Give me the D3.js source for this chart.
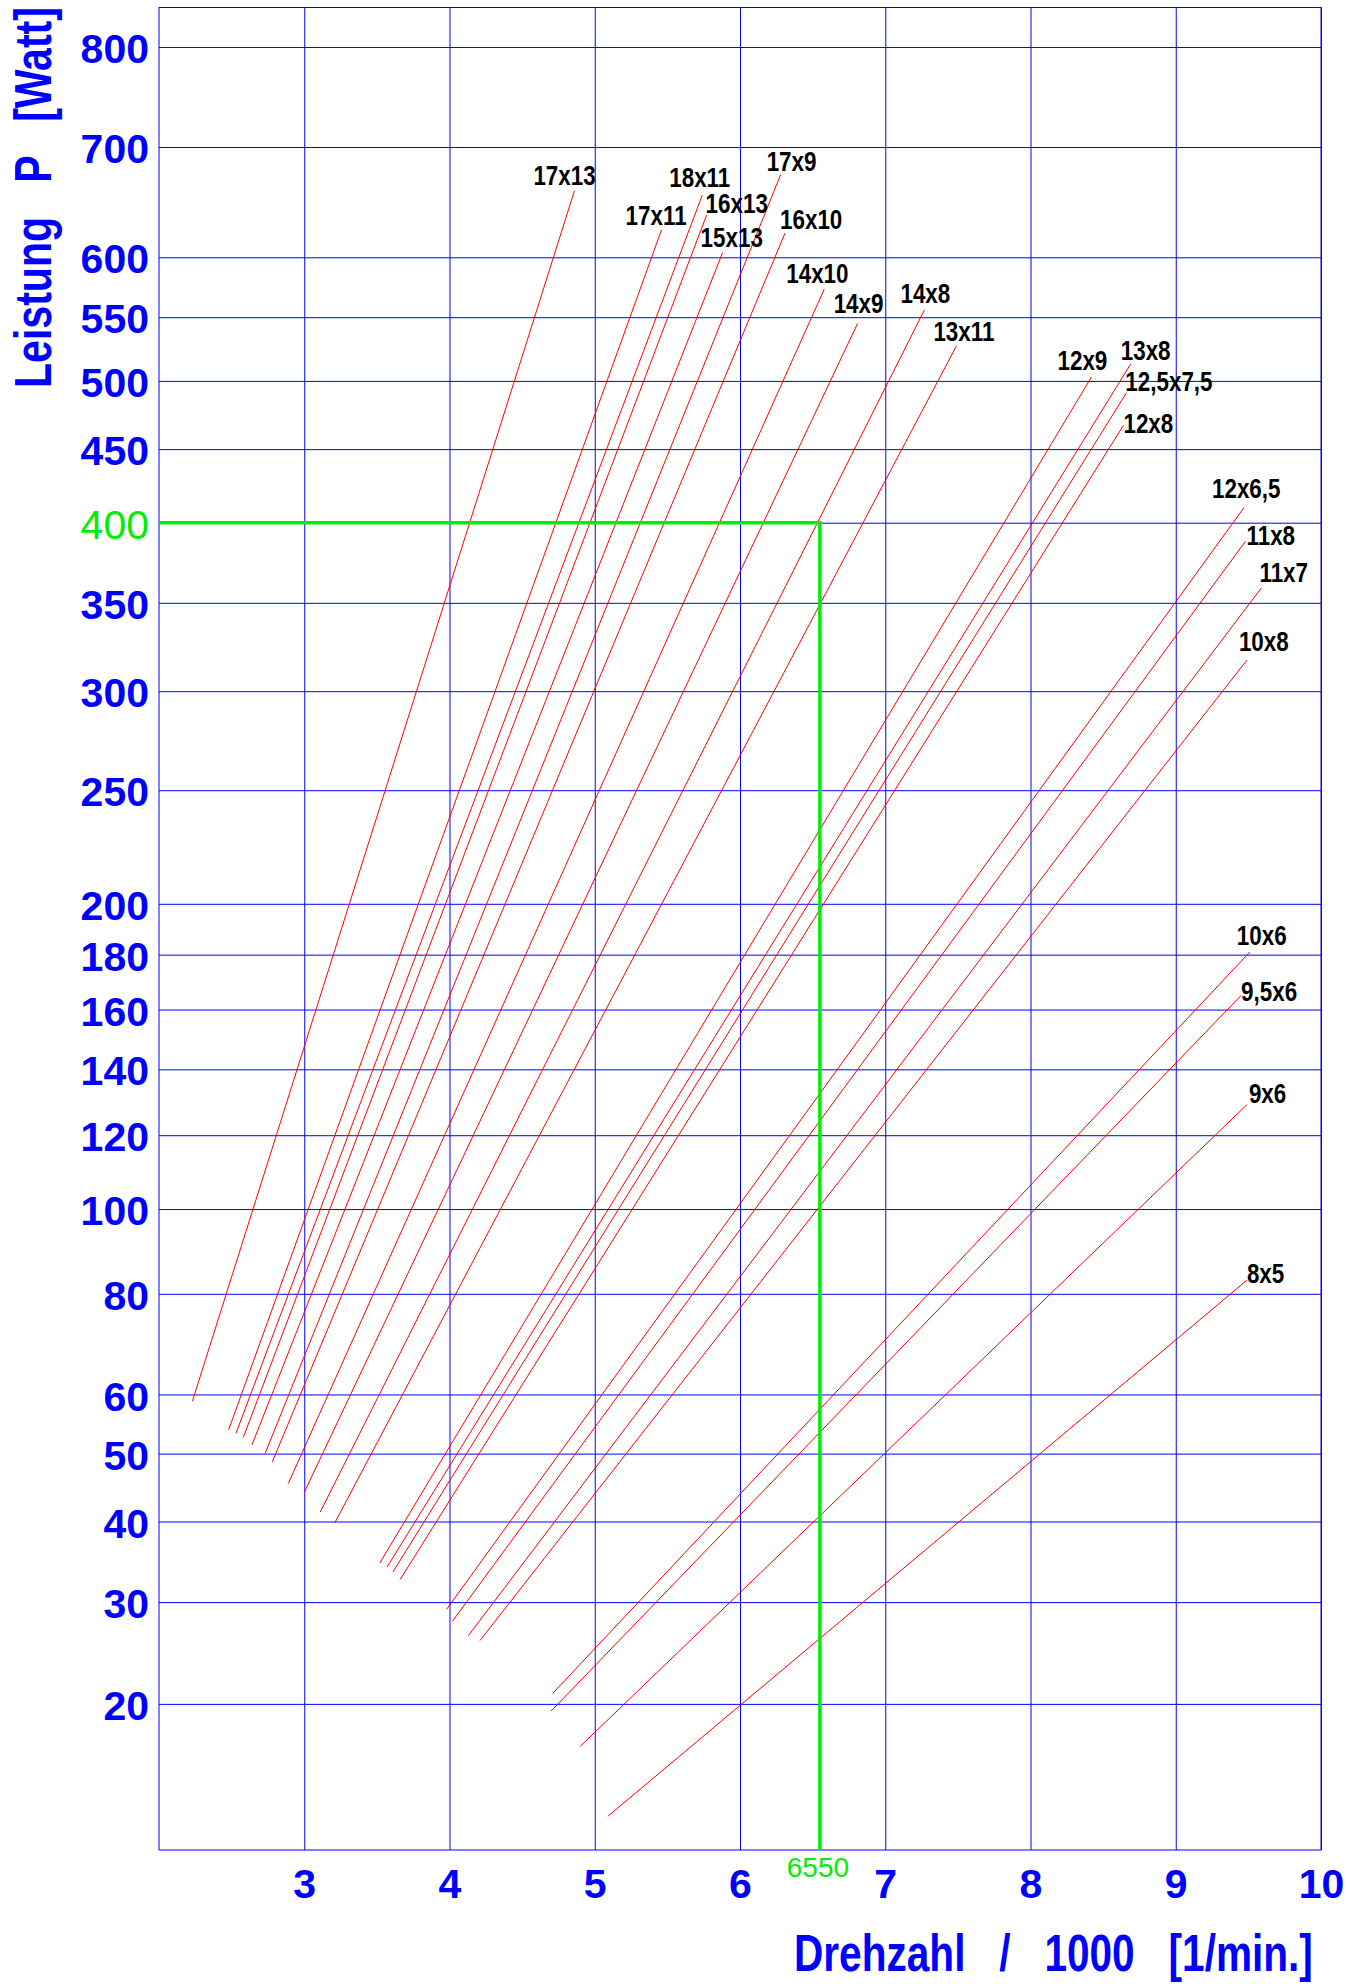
<!DOCTYPE html>
<html>
<head>
<meta charset="utf-8">
<script src="https://cdn.jsdelivr.net/npm/d3@7"></script>
<style>
  body { margin: 0; background: #fff; }
  svg { display: block; font-family: "Liberation Sans", Arial, Helvetica, sans-serif; }
  .grid line { stroke: #0000ff; stroke-width: 1; }
  .grid path { display: none; }
</style>
</head>
<body>
<div id="chart"></div>
<script>
// propeller curves: start (low rpm) and end (high rpm) points, rpm in 1000/min
var propNames  = ["17x13","17x11","18x11","16x13","15x13","17x9","16x10","14x10","14x9","14x8","13x11",
                  "12x9","13x8","12,5x7,5","12x8",
                  "12x6,5","11x8","11x7","10x8",
                  "10x6","9,5x6","9x6","8x5"];
var rpmStart   = [2.23, 2.48, 2.53, 2.58, 2.64, 2.73, 2.78, 2.89, 3.00, 3.11, 3.21,
                  3.52, 3.57, 3.61, 3.66,
                  3.98, 4.02, 4.13, 4.21,
                  4.71, 4.70, 4.90, 5.09];
var powerStart = [58.8, 53.9, 53.3, 52.6, 51.4, 50.0, 48.7, 45.4, 44.1, 41.3, 39.8,
                  34.6, 34.1, 33.5, 32.6,
                  29.2, 27.9, 26.4, 25.9,
                  20.9, 19.4, 16.6, 11.9];
var rpmEnd     = [4.86, 5.46, 5.74, 5.77, 5.88, 6.28, 6.31, 6.58, 6.81, 7.27, 7.49,
                  8.42, 8.69, 8.66, 8.64,
                  9.47, 9.48, 9.59, 9.49,
                  9.51, 9.45, 9.49, 9.49];
var powerEnd   = [659, 624, 655, 637, 604, 674, 621, 573, 545, 556, 527,
                  503, 513, 491, 467,
                  410, 388, 359, 317,
                  181, 165, 129, 83];

var xTicks = [3, 4, 5, 6, 7, 8, 9, 10];
var yTicks = [20, 30, 40, 50, 60, 80, 100, 120, 140, 160, 180, 200, 250, 300, 350, 400, 450, 500, 550, 600, 700, 800];

// marked operating point
var markRpm = 6.55;
var markPower = 400;
var markLabel = "6550";

// label nudges relative to the upper end of each curve (px)
var labelDx = [-41, -36, -33, -1, -22, -14, -5, -38, -24, -24, -23,
               -34, -10, -1, 0,
               -32, 1, -2, -8,
               -13, 0, 2, 0];
var labelDy = [-6, -5, -8, -2, -6, -4, -4, -6, -10, -7, -5,
               -7, -4, -2, 8,
               -10, 4, -6, -9,
               -7, 6, -2, 3];

var margin = {top: 7.5, left: 159},
    plotW = 1162,
    plotH = 1842.5;

var svg = d3.select("#chart").append("svg")
    .attr("width", 1350)
    .attr("height", 1986);

var g = svg.append("g")
    .attr("transform", "translate(" + margin.left + "," + margin.top + ")");

var x = d3.scaleLinear().domain([2, 10]).range([0, plotW]);
var y = d3.scalePow().exponent(0.32).domain([10, 842]).range([plotH, 0]);

// vertical grid + x labels
var xAxis = g.append("g")
    .attr("class", "grid")
    .attr("transform", "translate(0," + plotH + ")")
    .call(d3.axisBottom(x).tickValues(xTicks).tickSize(-plotH).tickPadding(19).tickFormat(d3.format("d")));
xAxis.selectAll("text")
    .style("fill", "#0000ff")
    .style("font-size", "41px")
    .style("font-weight", "bold")
    .style("font-family", "'Liberation Sans', Arial, sans-serif");

// horizontal grid + y labels
var yAxis = g.append("g")
    .attr("class", "grid")
    .call(d3.axisLeft(y).tickValues(yTicks).tickSize(-plotW).tickPadding(10).tickFormat(d3.format("d")));
yAxis.selectAll("text")
    .attr("dy", "0.38em")
    .style("fill", function(d) { return d === markPower ? "#00ee00" : "#0000ff"; })
    .style("font-weight", function(d) { return d === markPower ? "normal" : "bold"; })
    .style("font-size", "41px")
    .style("font-family", "'Liberation Sans', Arial, sans-serif");

// frame
g.append("rect")
    .attr("width", plotW)
    .attr("height", plotH)
    .attr("fill", "none")
    .attr("stroke", "#0000ff")
    .attr("stroke-width", 1);

// propeller lines
var props = propNames.map(function(name, i) {
    return {name: name, pts: [[rpmStart[i], powerStart[i]], [rpmEnd[i], powerEnd[i]]], dx: labelDx[i], dy: labelDy[i]};
});

var line = d3.line()
    .x(function(d) { return x(d[0]); })
    .y(function(d) { return y(d[1]); });

g.selectAll("path.prop")
    .data(props)
    .enter()
    .append("path")
    .attr("class", "prop")
    .attr("d", function(d) { return line(d.pts); })
    .attr("fill", "none")
    .attr("stroke", "#ff0000")
    .attr("stroke-width", 1);

g.selectAll("text.propLabel")
    .data(props)
    .enter()
    .append("text")
    .attr("class", "propLabel")
    .attr("transform", function(d) {
        return "translate(" + (x(d.pts[1][0]) + d.dx) + "," + (y(d.pts[1][1]) + d.dy) + ") scale(0.8,1)";
    })
    .style("font-size", "28px")
    .style("font-weight", "bold")
    .style("fill", "#000")
    .text(function(d) { return d.name; });

// green marker lines
g.append("path")
    .attr("d", line([[2, markPower], [markRpm, markPower], [markRpm, 10]]))
    .attr("fill", "none")
    .attr("stroke", "#00ee00")
    .attr("stroke-width", 3.5);

g.append("text")
    .attr("x", x(markRpm) - 2)
    .attr("y", plotH + 27)
    .attr("text-anchor", "middle")
    .style("font-size", "28px")
    .style("fill", "#00ee00")
    .text(markLabel);

// axis titles, squeezed horizontally to the width of the original lettering
function squeezedTitle(str, tx, ty, rot, width) {
    var t = svg.append("text")
        .style("white-space", "pre")
        .style("font-size", "52px")
        .style("font-weight", "bold")
        .style("fill", "#0000ff")
        .text(str);
    var sx = width / t.node().getComputedTextLength();
    t.attr("transform", "translate(" + tx + "," + ty + ") rotate(" + rot + ") scale(" + sx + ",1)");
}

squeezedTitle("Leistung   P   [Watt]", 51, 388, -90, 381);
squeezedTitle("Drehzahl   /   1000   [1/min.]", 794, 1971, 0, 519);
</script>
</body>
</html>
